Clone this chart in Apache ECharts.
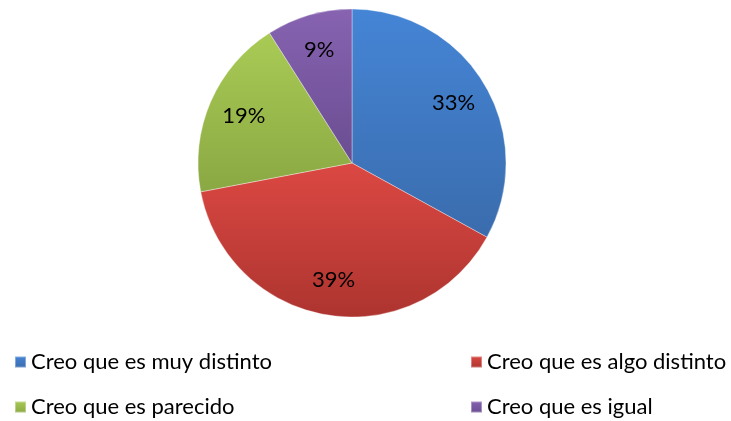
<!DOCTYPE html>
<html lang="es">
<head>
    <meta charset="UTF-8">
    <title>Pie</title>
    <script src="https://cdn.jsdelivr.net/npm/echarts@6/dist/echarts.min.js"></script>
    <style>
        *{margin:0;padding:0;}
        html,body{width:100%;height:100%;overflow:hidden;background:#fff;}
        .container{width:731px;height:421px;}
    </style>
</head>
<body>
<div class="container"></div>
<script>
    let categories=['Creo que es muy distinto','Creo que es algo distinto','Creo que es parecido','Creo que es igual'];
    let values=[33,39,19,9];
    let colorsTop=['#4585d6','#dc4843','#a9cb55','#8763b1'];
    let colorsBottom=['#3a6cad','#ad342f','#8aa843','#6a4d91'];
    // legend positions (left, top), two columns like the original
    let legendPos=[[9,346],[465,346],[9,391],[465,391]];

    let container=document.querySelector('.container');
    let mycharts=echarts.init(container);

    let data=categories.map((name,i)=>({
        name,
        value:values[i],
        itemStyle:{
            color:new echarts.graphic.LinearGradient(0,0,0,1,[
                {offset:0,color:colorsTop[i]},
                {offset:1,color:colorsBottom[i]}
            ]),
            borderColor:'rgba(255,255,255,0.35)',
            borderWidth:1
        }
    }));

    let font='Lato, "Liberation Sans", sans-serif';

    let legend=categories.map((name,i)=>({
        left:legendPos[i][0],
        top:legendPos[i][1],
        itemWidth:11,
        itemHeight:11,
        icon:'rect',
        data:[name],
        textStyle:{fontFamily:font,fontSize:22,color:'#000'}
    }));

    let options={
        animation:false,
        color:colorsTop,
        legend,
        series:[{
            type:'pie',
            center:[352,163],
            radius:[0,154],
            startAngle:90,
            clockwise:true,
            label:{show:false},
            labelLine:{show:false},
            emphasis:{disabled:true},
            data
        },{
            type:'pie',
            center:[352,163],
            radius:[76,154],
            startAngle:90,
            clockwise:true,
            silent:true,
            label:{
                show:true,
                position:'inside',
                formatter:'{c}%',
                fontFamily:font,
                fontSize:22,
                color:'#000'
            },
            labelLine:{show:false},
            data:categories.map((name,i)=>({name,value:values[i],itemStyle:{color:'transparent'}}))
        }]
    };

    mycharts.setOption(options);
</script>
</body>
</html>
